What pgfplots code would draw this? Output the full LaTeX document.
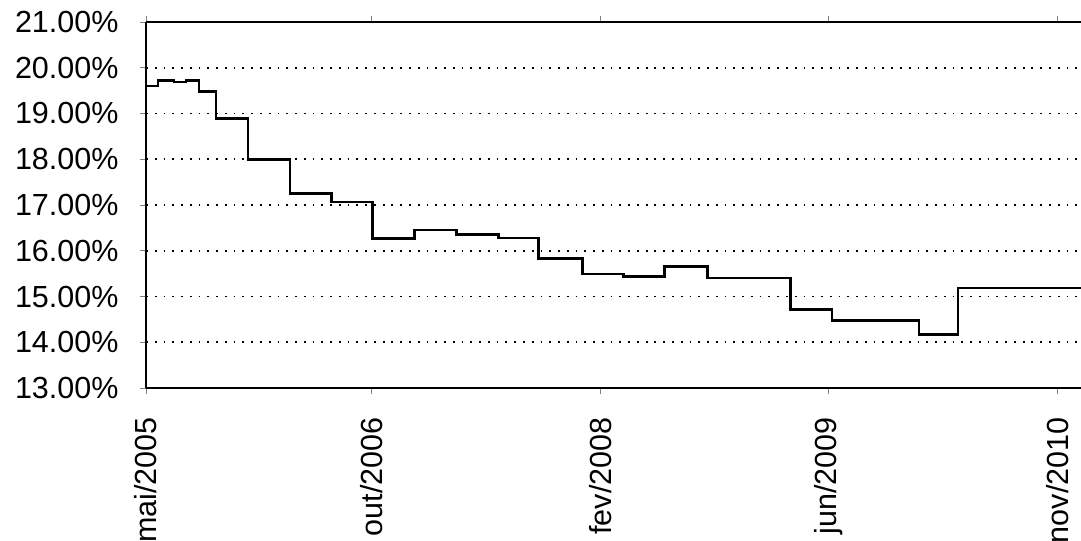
\documentclass[border=0pt]{standalone}
\usepackage{pgfplots}
\pgfplotsset{compat=1.18}
\usepackage{fontspec}
\setmainfont{Liberation Sans}
\pgfplotstableread{
x y
0 19.60
0.87 19.72
2.03 19.69
2.89 19.72
3.83 19.48
5.07 18.89
7.38 17.99
10.42 17.25
13.39 17.07
16.35 16.27
19.39 16.45
22.43 16.36
25.47 16.28
28.36 15.83
31.55 15.49
34.52 15.44
37.48 15.66
40.59 15.40
46.60 14.72
49.57 14.47
55.86 14.17
58.68 15.19
67.58 15.19
}\rates
\begin{document}
\begin{tikzpicture}
\begin{axis}[
  name=ax,
  scale only axis,
  width=935bp, height=366bp,
  xmin=0, xmax=67.58,
  ymin=13, ymax=21,
  axis x line=box,
  axis y line=left,
  axis line style={-, black, line width=2.2pt},
  ytick={13,14,15,16,17,18,19,20,21},
  yticklabels={13.00\%,14.00\%,15.00\%,16.00\%,17.00\%,18.00\%,19.00\%,20.00\%,21.00\%},
  xtick={0,16.3,32.85,49.35,65.9},
  xticklabels={mai/2005,out/2006,fev/2008,jun/2009,nov/2010},
  tick align=outside,
  major tick length=6bp,
  tick style={black!50, line width=0.8pt},
  ymajorgrids,
  grid style={black, line width=1.8pt, dash pattern=on 1.8pt off 7pt},
  ticklabel style={font=\fontsize{30.5bp}{33bp}\selectfont},
  yticklabel style={anchor=east, xshift=-18bp},
  xticklabel style={anchor=east, rotate=90, xshift=-20bp},
  clip=false,
]
\addplot[const plot, black, line width=2.6pt] table[x=x, y=y] {\rates};
\end{axis}
\pgfresetboundingbox
\path[use as bounding box] ([xshift=-146bp,yshift=-153bp]ax.south west) rectangle ([yshift=22bp]ax.north east);
\end{tikzpicture}
\end{document}
